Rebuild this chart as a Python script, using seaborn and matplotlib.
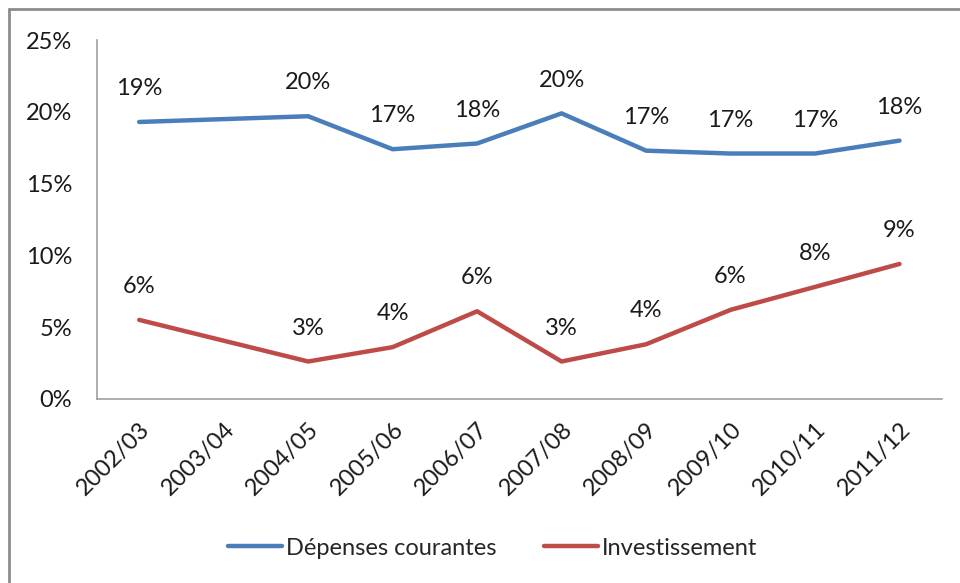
import numpy as np
import pandas as pd
import matplotlib
matplotlib.use("Agg")
import matplotlib.pyplot as plt
import seaborn as sns
from matplotlib.lines import Line2D
from matplotlib.ticker import FuncFormatter

categories = ["2002/03", "2003/04", "2004/05", "2005/06", "2006/07",
              "2007/08", "2008/09", "2009/10", "2010/11", "2011/12"]
depenses = [19.3, np.nan, 19.7, 17.4, 17.8, 19.9, 17.3, 17.1, 17.1, 18.0]
invest = [5.5, np.nan, 2.6, 3.6, 6.1, 2.6, 3.8, 6.2, 7.8, 9.4]
series_names = ["Dépenses courantes", "Investissement"]
colors = ["#4a7ebb", "#be4b48"]
yticks = [0, 5, 10, 15, 20, 25]

sns.set_style("white")
plt.rcParams["font.family"] = ["Lato", "DejaVu Sans"]
FS = 17

rows = []
for name, vals in zip(series_names, [depenses, invest]):
    for i, v in enumerate(vals):
        rows.append({"pos": i, "val": v, "serie": name})
df = pd.DataFrame(rows).dropna()

fig = plt.figure(figsize=(9.6, 5.83), dpi=100)
ax = fig.add_axes([0.101, 0.316, 0.880, 0.615])

sns.lineplot(data=df, x="pos", y="val", hue="serie", hue_order=series_names,
             palette=colors, linewidth=3.2, ax=ax, legend=False, sort=True)

# data labels
for name, vals, c in zip(series_names, [depenses, invest], colors):
    for i, v in enumerate(vals):
        if np.isnan(v):
            continue
        ax.annotate(f"{int(v + 0.5)}%", (i, v), xytext=(0, 24), textcoords="offset points",
                    ha="center", va="center", fontsize=FS, color="#1a1a1a")

ax.set_xlim(-0.5, len(categories) - 0.5)
ax.set_ylim(0, 25)
ax.set_yticks(yticks)
ax.yaxis.set_major_formatter(FuncFormatter(lambda v, p: f"{v:.0f}%"))
ax.set_xticks(range(len(categories)))
ax.set_xticklabels(categories, rotation=45, ha="right", rotation_mode="anchor")
ax.set_xticks(np.arange(-0.5, len(categories)), minor=True)
ax.tick_params(axis="x", which="major", length=0, pad=14, labelsize=FS, labelcolor="#1a1a1a")
ax.tick_params(axis="x", which="minor", length=6, width=1.2, color="#a0a0a0", direction="out")
ax.tick_params(axis="y", length=6, width=1.2, color="#a0a0a0", direction="out",
               pad=12, labelsize=FS, labelcolor="#1a1a1a")
ax.set_xlabel("")
ax.set_ylabel("")
for s in ["top", "right"]:
    ax.spines[s].set_visible(False)
for s in ["left", "bottom"]:
    ax.spines[s].set_color("#a0a0a0")
    ax.spines[s].set_linewidth(1.2)
ax.grid(False)

handles = [Line2D([], [], color=c, linewidth=3.2) for c in colors]
fig.legend(handles, series_names, loc="center", bbox_to_anchor=(0.513, 0.06),
           ncol=2, frameon=False, fontsize=FS, handlelength=2.3,
           handletextpad=0.15, columnspacing=2.0)

# outer frame (top and left edges visible)
fig.add_artist(Line2D([9 / 960, 1], [1 - 9 / 583, 1 - 9 / 583], transform=fig.transFigure,
                      color="#8c8c8c", linewidth=2))
fig.add_artist(Line2D([9 / 960, 9 / 960], [0, 1 - 9 / 583], transform=fig.transFigure,
                      color="#8c8c8c", linewidth=2))

fig.savefig("out.png", dpi=100)
